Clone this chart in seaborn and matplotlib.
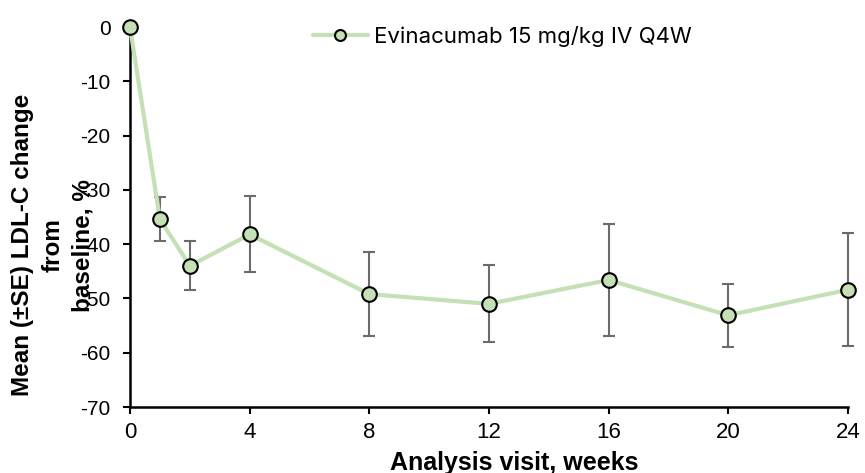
import matplotlib
matplotlib.use("Agg")
import matplotlib.pyplot as plt
import seaborn as sns
import pandas as pd

# Visit weeks, mean % change in LDL-C and its standard error
weeks = [0, 1, 2, 4, 8, 12, 16, 20, 24]
mean_change = [0.0, -35.4, -44.0, -38.2, -49.2, -51.0, -46.6, -53.1, -48.4]
se_change = [0.0, 4.0, 4.5, 7.0, 7.7, 7.1, 10.4, 5.8, 10.4]
series_label = "Evinacumab 15 mg/kg IV Q4W"
x_ticks = [0, 4, 8, 12, 16, 20, 24]
y_ticks = [0, -10, -20, -30, -40, -50, -60, -70]

sns.set_theme(style="white")
plt.rcParams["font.family"] = ["Liberation Sans", "DejaVu Sans"]
for key in ("text.color", "axes.labelcolor", "xtick.color", "ytick.color"):
    plt.rcParams[key] = "black"

line_green = "#c5e0b4"
bar_grey = "#6b6b6b"

df = pd.DataFrame({"week": weeks, "mean": mean_change, "se": se_change,
                   "arm": series_label})

fig = plt.figure(figsize=(8.65, 4.73), dpi=100)
ax = fig.add_axes([0.1503, 0.1395, 0.8300, 0.8034])

# SE bars underneath the mean line
ax.errorbar(df["week"], df["mean"], yerr=df["se"], fmt="none",
            ecolor=bar_grey, elinewidth=1.5, capsize=4.5, capthick=1.5,
            zorder=2, clip_on=False)

sns.lineplot(data=df, x="week", y="mean", hue="arm", palette=[line_green],
             marker="o", markersize=10.5, markerfacecolor=line_green,
             markeredgecolor="black", markeredgewidth=1.5, linewidth=3,
             errorbar=None, ax=ax, zorder=3, clip_on=False)

ax.set_xlim(0, 24)
ax.set_ylim(-70, 0)
ax.set_xticks(x_ticks)
ax.set_yticks(y_ticks)

ax.set_xticklabels([str(t) for t in x_ticks], fontsize=16)
ax.set_yticklabels([str(t) for t in y_ticks], fontsize=15)

ax.tick_params(axis="both", direction="out", length=5, width=1.5,
               color="black", bottom=True, left=True,
               labelcolor="black")
ax.tick_params(axis="y", pad=9)
ax.tick_params(axis="x", pad=6)

for side in ("top", "right"):
    ax.spines[side].set_visible(False)
for side in ("left", "bottom"):
    ax.spines[side].set_color("black")
    ax.spines[side].set_linewidth(1.8)

ax.set_xlabel("Analysis visit, weeks", fontsize=18, fontweight="bold")
ax.xaxis.set_label_coords(0.535, -0.115)
ax.xaxis.label.set_va("top")

ax.set_ylabel("Mean (±SE) LDL-C change\nfrom\nbaseline, %", fontsize=17.5,
              fontweight="bold", linespacing=1.38)
ax.yaxis.set_label_coords(-0.05, 0.426)

leg = ax.legend(loc="upper center", bbox_to_anchor=(0.519, 1.055), frameon=False,
                handlelength=2.45, handletextpad=0.3, markerscale=0.75,
                prop={"family": ["Inter", "DejaVu Sans"], "size": 16})
for t in leg.get_texts():
    t.set_color("black")

fig.savefig("out.png", dpi=100)
